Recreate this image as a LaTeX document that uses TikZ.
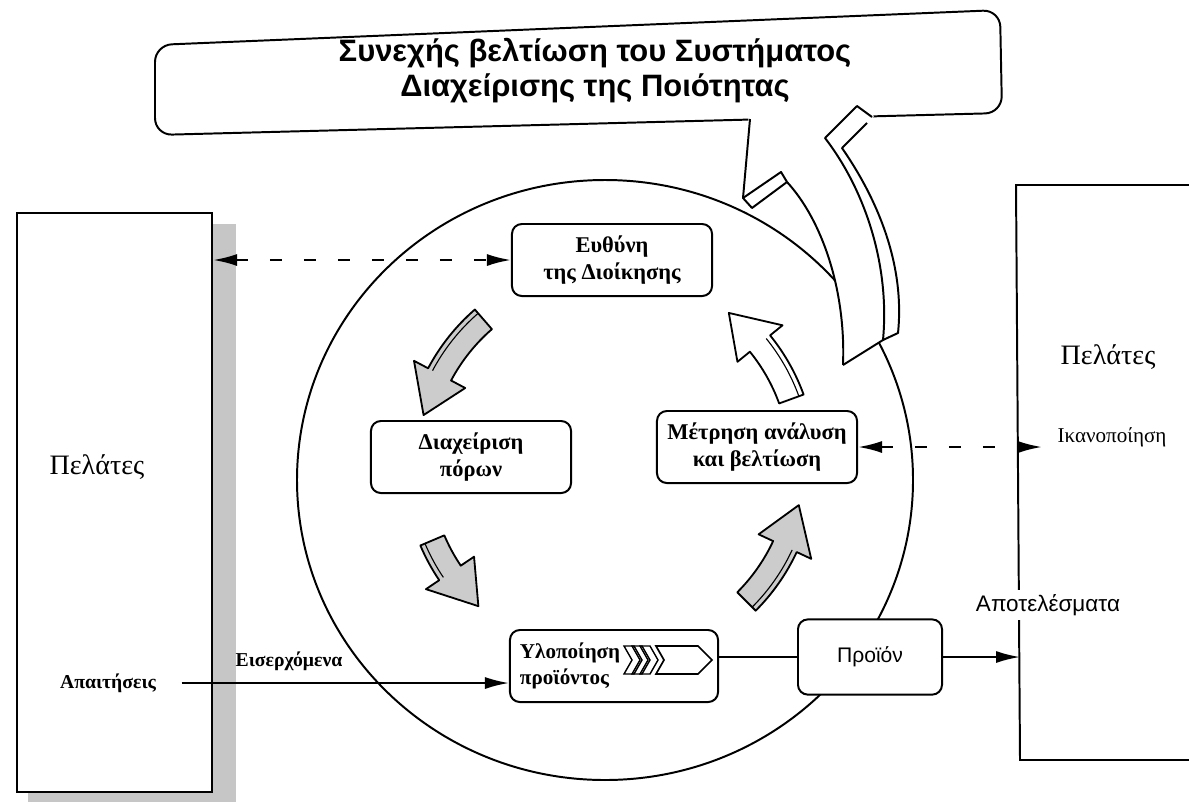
\documentclass[tikz,border=0pt]{standalone}
\usepackage{fontspec}
\setmainfont{Liberation Serif}
\newfontfamily\sansgr{Liberation Sans}
\usetikzlibrary{arrows.meta,calc,positioning}

\tikzset{
  procbox/.style={draw,line width=1.4pt,rounded corners=7pt,fill=white,align=center,
    font=\bfseries\fontsize{16}{19}\selectfont,minimum width=5cm,minimum height=1.8cm,inner sep=2pt},
  custbox/.style={draw,line width=1.4pt},
  tagtxt/.style={font=\fontsize{15}{18}\selectfont,inner sep=1pt},
  bigtxt/.style={font=\fontsize{20}{24}\selectfont,inner sep=1pt},
  flowarrow/.style={line width=1.4pt,-{Latex[length=6mm,width=3mm]}},
  infoarrow/.style={line width=1.6pt,dash pattern=on 3mm off 5.5mm,
    {Latex[length=6mm,width=3mm]}-{Latex[length=6mm,width=3mm]}},
  cycarrow/.style={line width=1.3pt,line join=round},
}

% curved block arrow of the cycle: [fill]{from}{to}, angles seen anticlockwise
\newcommand{\cyclearrow}[3][white]{%
  \filldraw[cycarrow,fill=#1]
    ($(C)+(-#2:180)$) arc[start angle=-#2,end angle=-#3,radius=180]
    -- ($(C)+(-#3:164)$) -- ($(C)+({-#3-13}:193)$) -- ($(C)+(-#3:222)$)
    -- ($(C)+(-#3:206)$) arc[start angle=-#3,end angle=-#2,radius=206] -- cycle;
  \draw[line width=0.8pt] ($(C)+(-#2:201)$) arc[start angle=-#2,end angle=-#3,radius=201];}

\begin{document}
\begin{tikzpicture}[x=0.025cm,y=-0.025cm]
  \useasboundingbox (0,0) rectangle (1189,804);
  \coordinate (C) at (610,465);

  % improvement callout
  \draw[line width=1.4pt,rounded corners=12pt,fill=white]
    (155,45) -- (1000,10) -- (1002,113) -- (155,135) -- cycle;
  \node[font=\sansgr\bfseries\fontsize{22}{25}\selectfont,align=center] (goal) at (595,71)
    {Συνεχής βελτίωση του Συστήματος\\Διαχείρισης της Ποιότητας};

  % customers
  \fill[gray!45] (212,224) rectangle (236,802);
  \fill[gray!45] (28,792) rectangle (236,802);
  \node[custbox,fill=white,minimum width=4.875cm,minimum height=14.475cm] (custL) at (114.5,502.5) {};
  \node[bigtxt] (custLt) at (97,467) {Πελάτες};
  \node[tagtxt,font=\bfseries\fontsize{14}{17}\selectfont] (req) at (108,683) {Απαιτήσεις};

  \draw[custbox] (1189,185) -- (1016,185) -- (1020,760) -- (1189,760);
  \node[bigtxt] (custR) at (1108,357) {Πελάτες};
  \node[tagtxt] (satis) at (1112,437) {Ικανοποίηση};
  \node[tagtxt,fill=white,inner sep=3pt,font=\sansgr\fontsize{16}{19}\selectfont] (outc) at (1048,605) {Αποτελέσματα};

  % process loop
  \draw[line width=1.4pt] (605,480) ellipse [x radius=308,y radius=300];

  \node[procbox] (mgmt) at (612,260) {Ευθύνη\\της Διοίκησης};
  \node[procbox] (res) at (471,457) {Διαχείριση\\πόρων};
  \node[procbox] (meas) at (757,447) {Μέτρηση ανάλυση\\και βελτίωση};
  \node[procbox,align=left,text width=4.7cm,minimum width=5.2cm,inner xsep=0.25cm,
    font=\bfseries\fontsize{15}{19}\selectfont] (real) at (614,666) {Υλοποίηση\\προϊόντος};
  \node[procbox,minimum width=3.6cm,minimum height=1.88cm,font=\sansgr\fontsize{15}{18}\selectfont] (prod) at (870,657) {Προϊόν};

  \foreach \dx in {0,8,16}
    \draw[line width=1pt] ({624+\dx},646) -- ({634+\dx},646) -- ({642+\dx},660) -- ({634+\dx},674)
      -- ({624+\dx},674) -- ({632+\dx},660) -- cycle;
  \draw[line width=1.2pt,fill=white] (656,646) -- (698,646) -- (712,660) -- (698,674) -- (656,674) -- (664,660) -- cycle;

  % big arrow up to the callout
  \fill[white] (843,365) .. controls (846,290) and (822,220) .. (787,182) -- (752,208) -- (743,198)
    -- (749,110) -- (857,104) -- (874,116) -- (867,123) -- (842,148)
    .. controls (878,200) and (905,265) .. (898,333) -- (883,340) -- cycle;
  \begin{scope}[line width=1.4pt,line join=round]
    \draw (843,365) .. controls (846,290) and (822,220) .. (787,182) -- (752,208) -- (743,198) -- (750,119);
    \draw (743,198) -- (781,172) -- (787,182);
    \draw (843,365) -- (883,340) .. controls (890,265) and (865,190) .. (825,138) -- (857,106) -- (872,117);
    \draw (883,340) -- (898,333) .. controls (905,265) and (878,200) .. (842,148) -- (867,123);
  \end{scope}

  \cyclearrow[gray!40]{131}{152}
  \cyclearrow[gray!40]{203}{214}
  \cyclearrow[gray!40]{315}{335}
  \cyclearrow{20}{39}

  % flows
  \node[tagtxt,font=\bfseries\fontsize{14}{17}\selectfont] (inp) at (289,661) {Εισερχόμενα};
  \draw[flowarrow] ([xshift=6mm]req.east) -- (req.east -| real.west);
  \draw[line width=1.4pt] (prod.west -| real.east) -- (prod.west);
  \coordinate (resIn) at (1020,657);
  \draw[flowarrow] (prod.east) -- (resIn);
  \draw[infoarrow] (custL.east |- mgmt.west) -- (mgmt.west);
  \coordinate (satisIn) at (1042,447);
  \draw[infoarrow] (meas.east) -- (satisIn);
\end{tikzpicture}
\end{document}
